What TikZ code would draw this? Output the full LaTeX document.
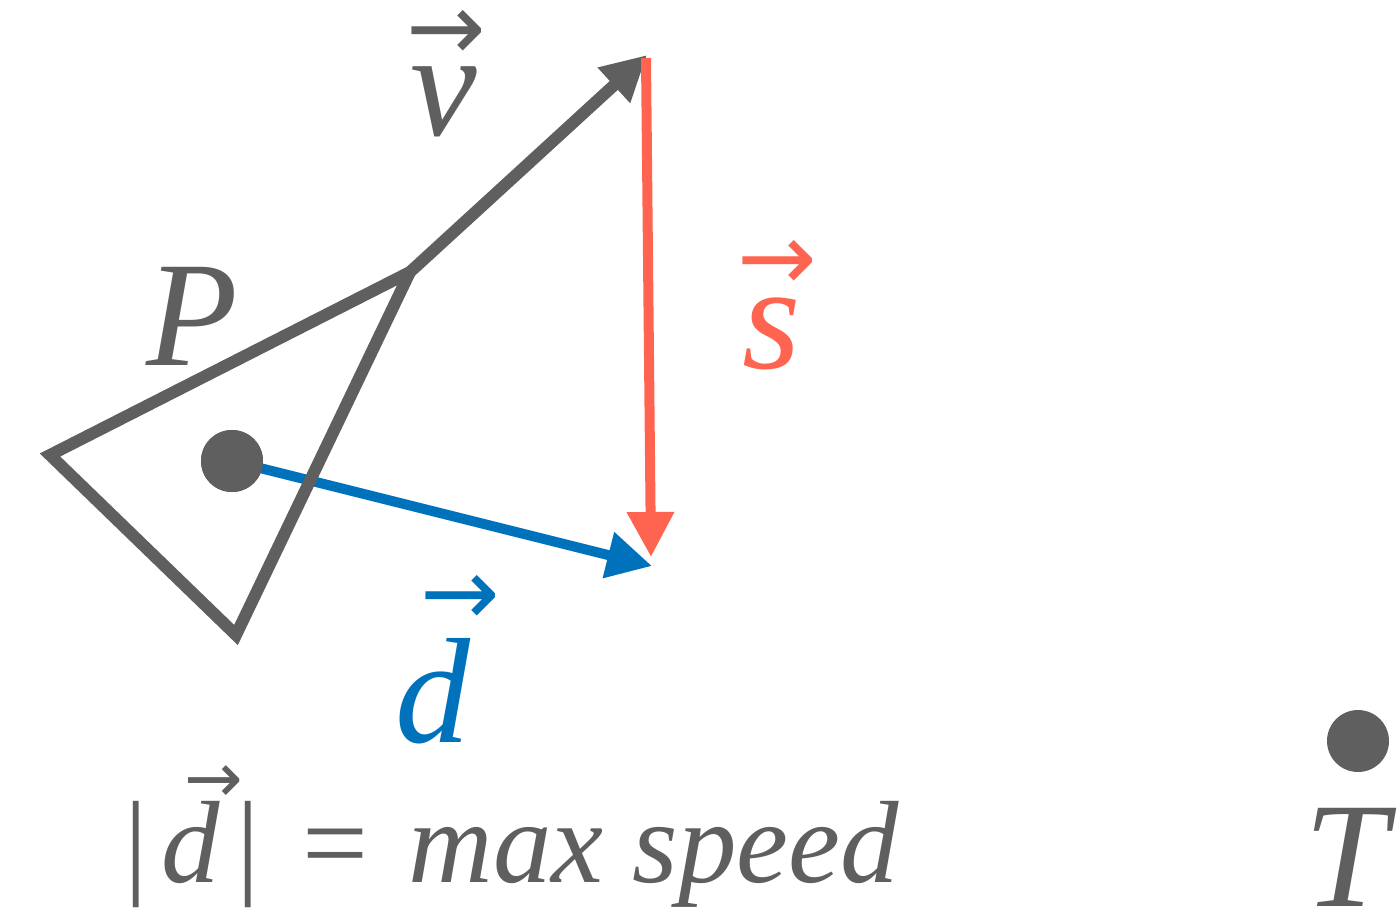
\documentclass[tikz,border=0pt]{standalone}
\usepackage{fontspec}
\setmainfont{Liberation Serif}
\newfontfamily\arrfont{DejaVu Sans}
\usetikzlibrary{arrows.meta}
\definecolor{dgray}{HTML}{5F5F5F}
\definecolor{sred}{HTML}{FF6450}
\definecolor{dblue}{HTML}{0072BC}
\tikzset{
  edge/.style={line width=12pt, draw=dgray, line join=miter},
  vecarrow/.style={line width=#1, -{Triangle[length=45pt,width=45pt]}},
  lab/.style={inner sep=0pt, font=\fontsize{150}{150}\selectfont\itshape},
  arr/.style={inner sep=0pt, font=\arrfont\fontsize{95}{95}\selectfont},
  dot/.style={circle, fill=dgray, minimum size=62pt, inner sep=0pt},
}
\begin{document}
\begin{tikzpicture}[x=1pt,y=-1pt]
\useasboundingbox (0,0) rectangle (1400,911);
% triangle vertices
\coordinate (A) at (50,455);
\coordinate (B) at (410,272);
\coordinate (C) at (236,635);
\coordinate (vt) at (647,55);
\coordinate (ss) at (646,58);
\coordinate (st) at (651,557);
\coordinate (dt) at (652,566);
\node[dot] (p) at (232,461) {};
% blue d arrow (under triangle)
\draw[vecarrow=10pt, dblue] (p.center) -- (dt);
\draw[edge] (A) -- (B) -- (C) -- cycle;
\node[dot] (p2) at (232,461) {};
% v arrow
\draw[vecarrow=12pt, dgray] (B) -- (vt);
% s arrow
\draw[vecarrow=10pt, sred, line cap=butt] (ss) -- (st);
% labels
\node[lab, text=dgray, anchor=base west] (P) at (146,365) {P};
\node[lab, text=dgray, anchor=base west] (v) at (410,135) {v};
\node[arr, text=dgray] (va) at (446,35) {→};
\node[lab, text=sred, anchor=base west] (s) at (742,368) {s};
\node[arr, text=sred] (sa) at (777,265) {→};
\node[lab, text=dblue, anchor=base west] (d) at (395,742) {d};
\node[arr, text=dblue] (da) at (460,600) {→};
% T
\node[dot] (t) at (1358,741) {};
\node[lab, text=dgray, anchor=base west] (T) at (1304,906) {T};
% formula
\node[inner sep=0pt, text=dgray, anchor=base west, font=\fontsize{117}{117}\selectfont] (f) at (124,882)
  {|\kern14pt\textit{d}\kern16pt|\kern43pt=\kern40pt\textit{max speed}};
\node[arr, text=dgray, font=\arrfont\fontsize{70}{70}\selectfont] (fa) at (214,784) {→};
\end{tikzpicture}
\end{document}
